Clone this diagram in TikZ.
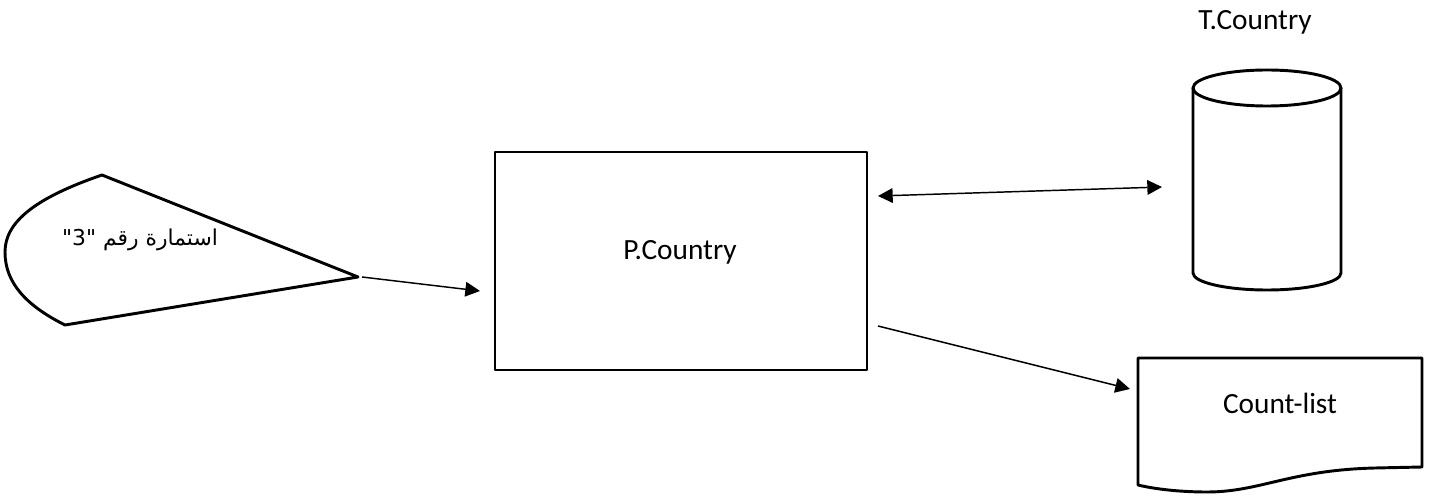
\documentclass[tikz,border=0pt]{standalone}
\usepackage{fontspec}
\setmainfont{Carlito}
\newfontfamily\arabicfont[Script=Arabic]{DejaVu Sans}
\TeXXeTstate=1
\usetikzlibrary{arrows.meta}
\begin{document}
\begin{tikzpicture}[x=0.375pt,y=-0.375pt,
		font=\fontsize{11}{13}\selectfont,
		shp/.style={line width=1.1pt,line join=round},
		flow/.style={line width=0.55pt,-{Triangle[length=5.5pt,width=5.5pt]}},
		both/.style={line width=0.55pt,{Triangle[length=5.5pt,width=5.5pt]}-{Triangle[length=5.5pt,width=5.5pt]}}]
		\useasboundingbox (0,0) rectangle (1437,498);
		% input form
		\draw[shp] (102,175) -- (358,277) coordinate (formtip) -- (65,325)
			.. controls (25,305) and (5,282) .. (5,252)
			.. controls (5,222) and (35,198) .. (102,175) -- cycle;
		\node (form) at (140,240) {\arabicfont\fontsize{8.2}{10}\selectfont\beginR استمارة رقم \beginL"3"\endL\endR};
		% process
		\draw[shp] (495,152) rectangle (867,370);
		\node (proc) at (680,252) {P.Country};
		% table
		\draw[shp] (1193,88) -- (1193,273) arc[start angle=180,end angle=360,x radius=74,y radius=-17] -- (1341,88);
		\draw[shp] (1267,88) ellipse[x radius=74,y radius=18];
		\node (tab) at (1255,22) {T.Country};
		% report
		\draw[shp] (1138,358) -- (1422,358) -- (1422,467) -- (1375,468)
			.. controls (1290,470) and (1260,492) .. (1207,492)
			.. controls (1175,492) and (1150,488) .. (1138,485) -- cycle;
		\node (rep) at (1280,403) {Count-list};
		% connectors
		\coordinate (a1) at (362,277);
		\coordinate (a2) at (480,291);
		\coordinate (b1) at (878,196);
		\coordinate (b2) at (1162,187);
		\coordinate (c1) at (878,326);
		\coordinate (c2) at (1130,389);
		\draw[flow] (a1) -- (a2);
		\draw[both] (b1) -- (b2);
		\draw[flow] (c1) -- (c2);
	\end{tikzpicture}
\end{document}
